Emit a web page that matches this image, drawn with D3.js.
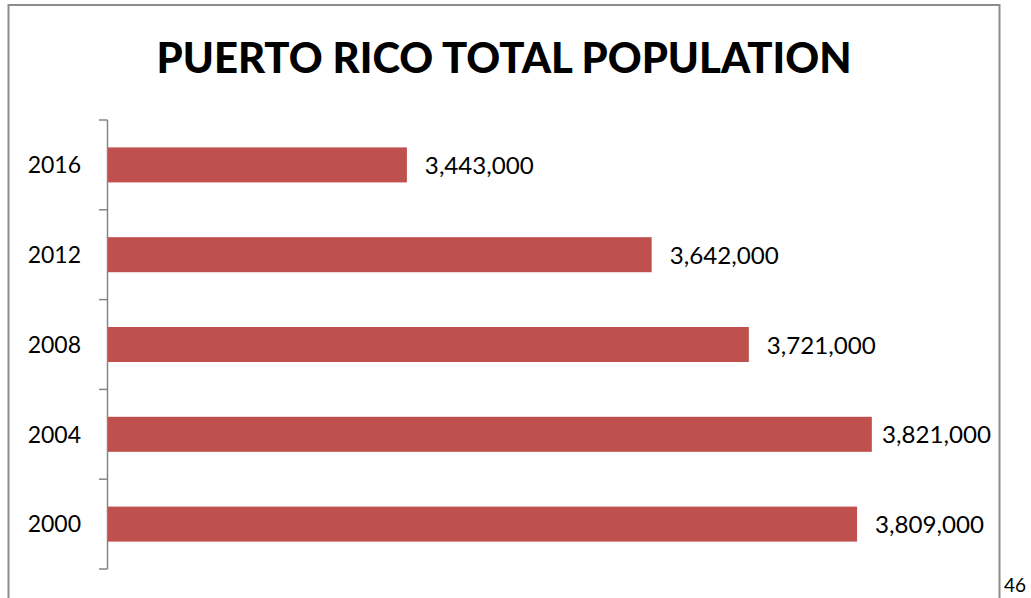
<!DOCTYPE html>
<html>
<head>
<meta charset="utf-8">
<script src="https://cdn.jsdelivr.net/npm/d3@7"></script>
<style>
  html, body { margin: 0; padding: 0; background: #fff; }
  svg { display: block; }
</style>
</head>
<body>
<svg id="chart" width="1031" height="598"></svg>
<script>
const title = "PUERTO RICO TOTAL POPULATION";
const years = ["2016", "2012", "2008", "2004", "2000"];
const population = [3443000, 3642000, 3721000, 3821000, 3809000];
const xDomain = [3200000, 4000000];
const pageNumber = "46";

const svg = d3.select("#chart");
const font = "Lato, 'Open Sans', sans-serif";

// frame
svg.append("path")
  .attr("d", "M8.5,598 L8.5,5 L999.5,5 L999.5,598")
  .attr("fill", "none").attr("stroke", "#8c8c8c").attr("stroke-width", 2);

svg.append("text")
  .attr("x", 504).attr("y", 73)
  .attr("text-anchor", "middle")
  .attr("font-family", font).attr("font-weight", 900).attr("font-size", 42)
  .attr("textLength", 695).attr("lengthAdjust", "spacingAndGlyphs")
  .attr("fill", "#000").text(title);

const x = d3.scaleLinear().domain(xDomain).range([108, 1092]);
const y = d3.scaleBand().domain(years).range([120, 569]).paddingInner(0.61).paddingOuter(0.305);
const yAxisScale = d3.scaleBand().domain(years).range([120, 569]);

// axis line and ticks at band boundaries
const g = svg.append("g");
g.append("line").attr("x1", 107.5).attr("x2", 107.5).attr("y1", 120).attr("y2", 569)
  .attr("stroke", "#868686").attr("stroke-width", 1.5);
const bounds = years.map(d => yAxisScale(d)).concat([yAxisScale.range()[1]]);
g.selectAll("line.tick").data(bounds).join("line").attr("class", "tick")
  .attr("x1", 99).attr("x2", 107.5)
  .attr("y1", d => d).attr("y2", d => d)
  .attr("stroke", "#868686").attr("stroke-width", 1.5);

g.selectAll("text.year").data(years).join("text").attr("class", "year")
  .attr("x", 81).attr("y", d => yAxisScale(d) + yAxisScale.bandwidth() / 2)
  .attr("dy", "0.36em").attr("text-anchor", "end")
  .attr("font-family", font).attr("font-size", 23).attr("fill", "#000")
  .text(d => d);

const data = years.map((yr, i) => ({ yr, v: population[i] }));
svg.selectAll("rect.bar").data(data).join("rect").attr("class", "bar")
  .attr("x", 108).attr("y", d => y(d.yr))
  .attr("width", d => x(d.v) - 108).attr("height", y.bandwidth())
  .attr("fill", "#C0504D");

const fmt = d3.format(",");
const labelW = 109, labelMaxRight = 991;
svg.selectAll("text.val").data(data).join("text").attr("class", "val")
  .attr("x", d => Math.min(x(d.v) + 18, labelMaxRight - labelW))
  .attr("y", d => y(d.yr) + y.bandwidth() / 2)
  .attr("dy", "0.38em")
  .attr("font-family", font).attr("font-size", 24).attr("fill", "#000")
  .attr("textLength", labelW).attr("lengthAdjust", "spacingAndGlyphs")
  .text(d => fmt(d.v));

svg.append("text").attr("x", 1004).attr("y", 592)
  .attr("font-family", font).attr("font-size", 19).attr("fill", "#000")
  .text(pageNumber);
</script>
</body>
</html>
